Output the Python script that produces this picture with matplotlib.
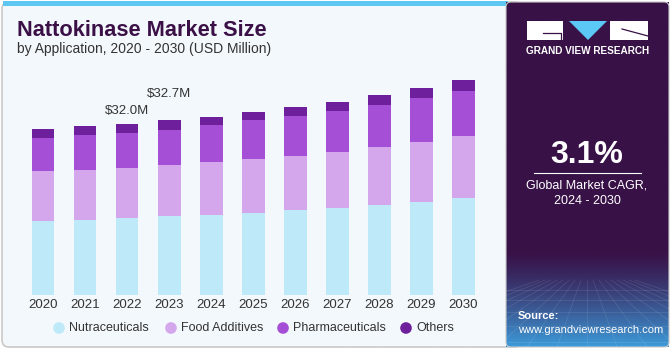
"""
Nattokinase market size by application, stacked bars
"""

import numpy as np
import matplotlib.pyplot as plt
from matplotlib.patches import FancyBboxPatch, Rectangle, Polygon

#Data (USD Million)
years = ['2020', '2021', '2022', '2023', '2024', '2025', '2026', '2027', '2028', '2029', '2030']
nutraceuticals = [13.9, 14.1, 14.4, 14.7, 15.0, 15.4, 15.8, 16.3, 16.8, 17.4, 18.2]
food_additives = [9.2, 9.3, 9.3, 9.5, 9.8, 10.0, 10.2, 10.5, 10.8, 11.2, 11.5]
pharmaceuticals = [6.3, 6.4, 6.6, 6.7, 6.9, 7.2, 7.4, 7.5, 7.9, 8.2, 8.5]
others = [1.6, 1.7, 1.7, 1.7, 1.6, 1.6, 1.7, 1.7, 1.8, 1.9, 1.9]
series_names = ['Nutraceuticals', 'Food Additives', 'Pharmaceuticals', 'Others']
labels = {2: '$32.0M', 3: '$32.7M'}
cagr = '3.1%'

colors = ['#bde9f9', '#d4a6ec', '#a54fd7', '#6e1f9c']
FONT = 'Liberation Sans'
W, H = 671, 350

fig = plt.figure(figsize=(W / 100, H / 100), dpi=100)
fig.patch.set_facecolor('white')

#Background decorations in pixel coordinates
bg = fig.add_axes([0, 0, 1, 1])
bg.set_xlim(0, W)
bg.set_ylim(H, 0)
bg.axis('off')

#Left panel
bg.add_patch(FancyBboxPatch((2, 2), 520, 345, boxstyle='round,pad=0,rounding_size=7',
                            facecolor='#f3f8fc', edgecolor='#c9c9c9', linewidth=1.2))
bg.add_patch(Rectangle((3, 1), 505, 4.5, facecolor='#5ec6f2', edgecolor='none'))

#Right panel with gradient at the bottom
grad = np.linspace(0, 1, 200)
grad = np.clip((grad - 0.72) / 0.28, 0, 1) ** 1.3
top_c = np.array([0x38, 0x11, 0x47]) / 255
bot_c = np.array([0x3d, 0x9a, 0xd9]) / 255
img = top_c[None, :] * (1 - grad[:, None]) + bot_c[None, :] * grad[:, None]
img = np.repeat(img[:, None, :], 2, axis=1)
bg.imshow(img, extent=(506, 669, 347, 2), aspect='auto', zorder=2)
bg.add_patch(FancyBboxPatch((506, 2), 163, 345, boxstyle='round,pad=0,rounding_size=5',
                            facecolor='none', edgecolor='#c9c9c9', linewidth=0.8, zorder=3))
#faint grid lines in the gradient
for k in range(-8, 9):
    bg.plot([587 + k * 6, 587 + k * 30], [280, 347], color='white', alpha=0.12, lw=0.5, zorder=3)
for yy in [290, 300, 312, 326, 342]:
    bg.plot([506, 669], [yy, yy], color='white', alpha=0.12, lw=0.5, zorder=3)

#Logo
bg.add_patch(Rectangle((527, 21), 36, 19, facecolor='white', edgecolor='none', zorder=4))
bg.plot([543, 561, 561], [32.5, 32.5, 40], color='#381147', lw=0.9, zorder=5)
bg.add_patch(Polygon([(569, 21), (607, 21), (588, 40)], facecolor='#5bc8f5', edgecolor='none', zorder=4))
bg.add_patch(Rectangle((610, 21), 38, 19, facecolor='white', edgecolor='none', zorder=4))
bg.plot([622, 648], [29, 36], color='#381147', lw=0.9, zorder=5)
bg.text(587.5, 51.5, 'GRAND VIEW RESEARCH', color='white', fontsize=7.2, fontweight='bold',
        ha='center', va='center', family=FONT, zorder=5)

#CAGR box
bg.text(587, 155, cagr, color='white', fontsize=23, fontweight='bold', ha='center', va='center',
        family=FONT, zorder=5)
bg.plot([534, 641], [173, 173], color='white', lw=0.8, zorder=5)
bg.text(587, 185.5, 'Global Market CAGR,', color='white', fontsize=9, ha='center', va='center',
        family=FONT, zorder=5)
bg.text(587, 201.5, '2024 - 2030', color='white', fontsize=9, ha='center', va='center',
        family=FONT, zorder=5)
bg.text(518, 316, 'Source:', color='white', fontsize=8, fontweight='bold', ha='left', va='center',
        family=FONT, zorder=5)
bg.text(518, 330, 'www.grandviewresearch.com', color='white', fontsize=8,
        ha='left', va='center', family=FONT, zorder=5)

#Title
bg.text(17, 30, 'Nattokinase Market Size', color='#3a1047', fontsize=15.7, fontweight='heavy',
        ha='left', va='center', family=FONT)
bg.text(17, 49, 'by Application, 2020 - 2030 (USD Million)', color='#333333', fontsize=10,
        ha='left', va='center', family=FONT)

#Legend
legend_x = [59, 171, 283, 406]
for name, c, lx in zip(series_names, colors, legend_x):
    bg.scatter([lx], [328], s=70, color=c, edgecolor='none', zorder=5)
    bg.text(lx + 10, 328, name, fontsize=9, color='#333333', ha='left', va='center', family=FONT)

#Bar chart
ax = fig.add_axes([0.95 / W, 55 / H, 504.6 / W, 240.9 / H])
ax.patch.set_alpha(0)
x = np.arange(len(years))
bottom = np.zeros(len(years))
for vals, c in zip([nutraceuticals, food_additives, pharmaceuticals, others], colors):
    ax.bar(x, vals, width=0.54, bottom=bottom, color=c, edgecolor='none')
    bottom += np.array(vals)

for i, txt in labels.items():
    off = 2.4 if i == 2 else 4.9
    ax.text(x[i], bottom[i] + off, txt, ha='center', va='center', fontsize=9.5,
            color='#333333', family=FONT)

ax.set_xlim(-1, 11)
ax.set_ylim(0, 45)
ax.set_xticks(x)
ax.set_xticklabels(years, family=FONT, fontsize=9.5, color='#333333')
ax.tick_params(axis='x', length=0, pad=3)
ax.set_yticks([])
for s in ax.spines.values():
    s.set_visible(False)

plt.savefig('out.png', dpi=100)
